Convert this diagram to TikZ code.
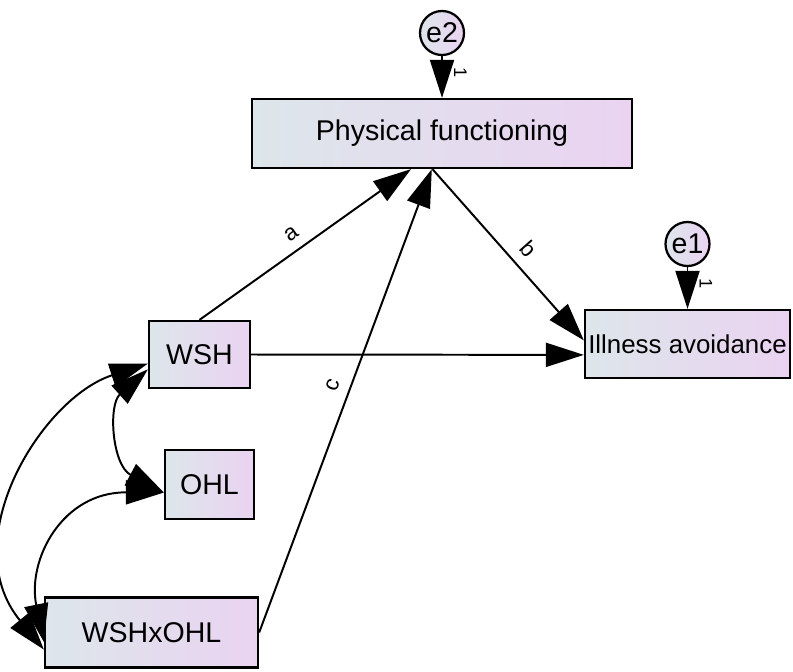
\documentclass[tikz,border=0pt]{standalone}
\usepackage{fontspec}
\setmainfont{Liberation Sans}
\usepackage{xcolor}
\usepackage{tikz}
\usetikzlibrary{arrows.meta}
\definecolor{boxGrey}{RGB}{221,230,234}
\definecolor{boxLilac}{RGB}{234,211,241}

\begin{document}
\begin{tikzpicture}[x=0.025cm, y=-0.025cm, font=\fontsize{20.3}{24}\selectfont,
  >={Triangle[length=0.95cm,width=0.6cm]},
  obs/.style={draw, line width=1.6pt, left color=boxGrey, right color=boxLilac, inner sep=0pt},
  err/.style={obs, circle, minimum size=1.1cm},
  link/.style={line width=1.4pt},
  lbl/.style={font=\fontsize{16}{18}\selectfont, inner sep=7pt},
  one/.style={font=\fontsize{13}{15}\selectfont, rotate=-90, anchor=south, inner sep=8pt}]
\useasboundingbox (0,0) rectangle (793,671);
\node[obs, minimum width=9.5cm, minimum height=1.725cm] (pf) at (442,133.5) {Physical functioning};
\node[obs, minimum width=5.125cm, minimum height=1.7cm, font=\fontsize{18.4}{22}\selectfont] (ia) at (687.5,344) {Illness avoidance};
\node[obs, minimum width=2.525cm, minimum height=1.675cm] (wsh) at (199.5,354.5) {WSH};
\node[obs, minimum width=2.225cm, minimum height=1.725cm] (ohl) at (209.5,484.5) {OHL};
\node[obs, minimum width=5.325cm, minimum height=1.75cm] (wshxohl) at (151.5,632.5) {WSHxOHL};
\node[err] (e2) at (442,33) {e2};
\node[err] (e1) at (687.5,244) {e1};

\draw[link, ->] (e2) -- (pf) node[one, pos=0.4] {1};
\draw[link, ->] (e1) -- (ia) node[one, pos=0.4] {1};
\draw[link, ->] (wsh.north) -- (pf.229) node[lbl, pos=0.48, sloped, above] {a};
\draw[link, ->] (pf.255) -- (ia.178) node[lbl, pos=0.54, sloped, above] {b};
\draw[link, ->] (wshxohl.east) -- (pf.254) node[lbl, pos=0.52, sloped, above] {c};
\draw[link, ->] (wsh.east) -- (ia.186);

\draw[link, <->] (wsh.190) .. controls (42,398) and (-46,540) .. (wshxohl.189);
\draw[link, <->] (wsh.196) .. controls (108,405) and (112,465) .. (ohl.190);
\draw[link, <->] (ohl.190) .. controls (62,492) and (27,560) .. (wshxohl.185);
\end{tikzpicture}
\end{document}
